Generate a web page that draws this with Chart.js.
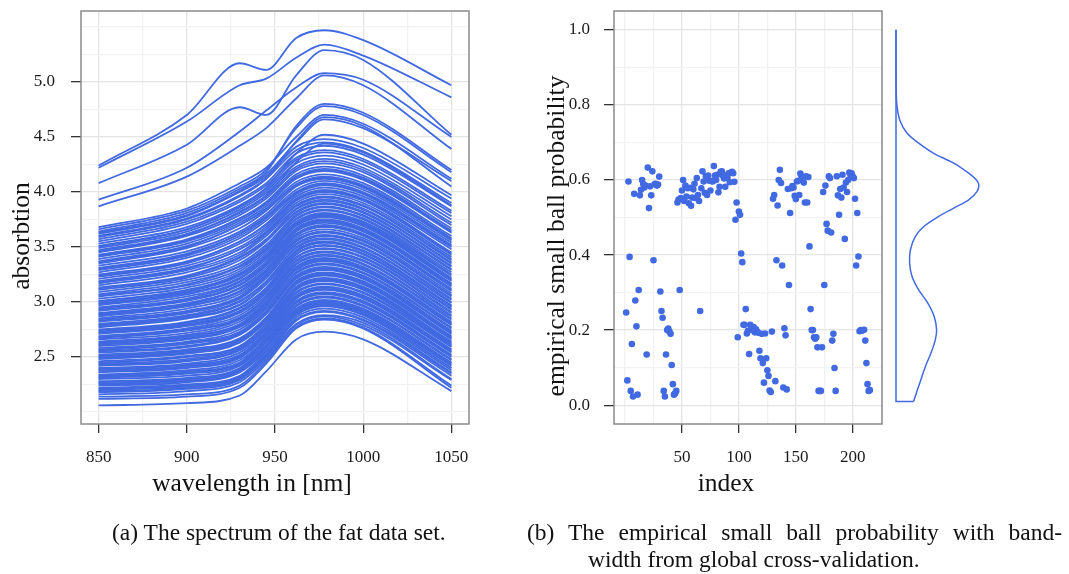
<!DOCTYPE html>
<html>
<head>
<meta charset="utf-8">
<script src="https://cdn.jsdelivr.net/npm/chart.js@4.4.1/dist/chart.umd.min.js"></script>
<style>
  html, body { margin: 0; padding: 0; background: #fff; }
  body { width: 1069px; height: 574px; position: relative; overflow: hidden; font-family: "Liberation Serif", serif; color: #111; }
  canvas { position: absolute; top: 0; }
  #spectra { left: 0; }
  #ballProb { left: 520px; }
  #ballDensity { left: 880px; }
  .cap { position: absolute; font-size: 23.5px; line-height: 1; white-space: nowrap; }
  #capA { left: 112px; top: 521px; }
  #capB1 { left: 527px; top: 521px; width: 535px; text-align: justify; text-align-last: justify; white-space: normal; }
  #capB2 { left: 588px; top: 548px; }
</style>
</head>
<body>
<canvas id="spectra" width="480" height="520"></canvas>
<canvas id="ballProb" width="380" height="520"></canvas>
<canvas id="ballDensity" width="140" height="520"></canvas>
<div class="cap" id="capA">(a) The spectrum of the fat data set.</div>
<div class="cap" id="capB1">(b) The empirical small ball probability with band-</div>
<div class="cap" id="capB2">width from global cross-validation.</div>
<script>
// --- data (a): absorbance of each sample at the wavelengths below ---
const wavelengths = [850, 900, 930, 945, 962, 978, 1000, 1050];
const spectra = [
  [2.06,2.08,2.15,2.37,2.66,2.73,2.66,2.19],
  [2.12,2.14,2.22,2.44,2.76,2.84,2.76,2.22],
  [2.14,2.16,2.24,2.46,2.77,2.85,2.77,2.24],
  [2.16,2.19,2.27,2.48,2.79,2.87,2.79,2.29],
  [2.18,2.21,2.29,2.50,2.80,2.88,2.81,2.30],
  [2.19,2.22,2.30,2.51,2.83,2.91,2.83,2.33],
  [2.20,2.23,2.31,2.53,2.86,2.94,2.86,2.36],
  [2.21,2.24,2.32,2.52,2.84,2.92,2.84,2.35],
  [2.22,2.25,2.33,2.55,2.89,2.97,2.89,2.40],
  [2.24,2.27,2.36,2.56,2.88,2.96,2.88,2.38],
  [2.25,2.28,2.37,2.58,2.91,2.99,2.91,2.42],
  [2.26,2.29,2.38,2.59,2.90,2.98,2.90,2.40],
  [2.27,2.30,2.39,2.60,2.93,3.01,2.93,2.44],
  [2.28,2.31,2.40,2.61,2.92,3.00,2.92,2.43],
  [2.30,2.33,2.42,2.63,2.94,3.02,2.94,2.45],
  [2.31,2.35,2.43,2.64,2.96,3.04,2.96,2.47],
  [2.32,2.36,2.44,2.66,2.99,3.07,2.99,2.50],
  [2.33,2.37,2.45,2.66,2.97,3.05,2.97,2.48],
  [2.34,2.38,2.47,2.67,3.00,3.08,3.00,2.51],
  [2.36,2.40,2.49,2.69,3.01,3.09,3.01,2.52],
  [2.37,2.41,2.50,2.70,3.03,3.11,3.03,2.54],
  [2.38,2.42,2.51,2.72,3.05,3.13,3.05,2.56],
  [2.39,2.43,2.52,2.72,3.04,3.12,3.04,2.55],
  [2.40,2.44,2.54,2.73,3.06,3.14,3.06,2.57],
  [2.42,2.46,2.56,2.75,3.08,3.16,3.08,2.59],
  [2.43,2.47,2.57,2.77,3.11,3.19,3.11,2.61],
  [2.44,2.48,2.58,2.77,3.09,3.17,3.09,2.60],
  [2.45,2.50,2.59,2.79,3.12,3.20,3.12,2.62],
  [2.46,2.51,2.60,2.80,3.14,3.22,3.14,2.64],
  [2.48,2.53,2.63,2.82,3.13,3.21,3.13,2.63],
  [2.49,2.54,2.64,2.83,3.16,3.24,3.16,2.66],
  [2.50,2.55,2.65,2.85,3.18,3.26,3.18,2.68],
  [2.51,2.56,2.66,2.85,3.17,3.25,3.17,2.67],
  [2.52,2.57,2.67,2.86,3.19,3.27,3.19,2.69],
  [2.54,2.59,2.70,2.89,3.21,3.29,3.21,2.71],
  [2.55,2.60,2.71,2.90,3.23,3.31,3.23,2.73],
  [2.56,2.62,2.72,2.91,3.22,3.30,3.22,2.72],
  [2.57,2.63,2.73,2.92,3.24,3.32,3.24,2.74],
  [2.58,2.64,2.75,2.94,3.27,3.35,3.27,2.77],
  [2.60,2.66,2.77,2.95,3.26,3.34,3.26,2.76],
  [2.61,2.67,2.78,2.97,3.29,3.37,3.29,2.79],
  [2.62,2.68,2.79,2.98,3.31,3.39,3.31,2.81],
  [2.63,2.69,2.80,2.99,3.30,3.38,3.30,2.80],
  [2.64,2.70,2.82,3.00,3.32,3.40,3.32,2.82],
  [2.66,2.72,2.84,3.02,3.34,3.42,3.34,2.84],
  [2.67,2.74,2.85,3.04,3.37,3.45,3.37,2.87],
  [2.68,2.75,2.86,3.04,3.35,3.43,3.35,2.85],
  [2.69,2.76,2.88,3.06,3.38,3.46,3.38,2.88],
  [2.71,2.78,2.90,3.08,3.40,3.48,3.40,2.90],
  [2.72,2.79,2.91,3.10,3.43,3.51,3.43,2.93],
  [2.73,2.80,2.92,3.10,3.41,3.49,3.41,2.91],
  [2.74,2.81,2.94,3.12,3.44,3.52,3.44,2.94],
  [2.75,2.82,2.95,3.13,3.46,3.54,3.46,2.96],
  [2.77,2.85,2.97,3.16,3.47,3.55,3.47,2.97],
  [2.78,2.86,2.98,3.16,3.46,3.54,3.46,2.96],
  [2.79,2.87,3.00,3.18,3.50,3.58,3.50,3.00],
  [2.80,2.88,3.01,3.19,3.49,3.57,3.49,2.99],
  [2.82,2.90,3.03,3.22,3.53,3.61,3.53,3.03],
  [2.83,2.91,3.04,3.22,3.52,3.60,3.52,3.02],
  [2.84,2.92,3.05,3.24,3.55,3.63,3.55,3.05],
  [2.85,2.94,3.07,3.25,3.56,3.64,3.56,3.06],
  [2.87,2.96,3.09,3.27,3.58,3.66,3.58,3.08],
  [2.88,2.97,3.10,3.28,3.56,3.64,3.56,3.06],
  [2.89,2.98,3.12,3.29,3.60,3.68,3.60,3.10],
  [2.90,2.99,3.13,3.31,3.61,3.69,3.61,3.11],
  [2.92,3.01,3.15,3.33,3.64,3.72,3.64,3.14],
  [2.93,3.02,3.16,3.34,3.62,3.70,3.62,3.12],
  [2.94,3.03,3.18,3.35,3.65,3.73,3.65,3.15],
  [2.95,3.05,3.19,3.37,3.67,3.75,3.67,3.17],
  [2.97,3.07,3.21,3.39,3.66,3.74,3.66,3.16],
  [2.98,3.08,3.22,3.40,3.69,3.77,3.69,3.19],
  [2.99,3.09,3.24,3.41,3.70,3.78,3.70,3.20],
  [3.00,3.10,3.25,3.42,3.72,3.80,3.72,3.22],
  [3.01,3.11,3.26,3.44,3.71,3.79,3.71,3.21],
  [3.03,3.13,3.28,3.46,3.73,3.81,3.73,3.24],
  [3.05,3.15,3.30,3.48,3.76,3.84,3.76,3.27],
  [3.06,3.16,3.32,3.48,3.75,3.83,3.75,3.25],
  [3.07,3.18,3.33,3.50,3.78,3.86,3.78,3.29],
  [3.09,3.20,3.35,3.52,3.79,3.87,3.79,3.30],
  [3.11,3.22,3.38,3.55,3.82,3.90,3.82,3.33],
  [3.12,3.23,3.40,3.56,3.81,3.89,3.81,3.32],
  [3.13,3.24,3.41,3.57,3.84,3.92,3.84,3.35],
  [3.15,3.27,3.43,3.60,3.85,3.93,3.85,3.36],
  [3.17,3.29,3.45,3.62,3.88,3.96,3.88,3.39],
  [3.18,3.30,3.48,3.63,3.87,3.95,3.87,3.38],
  [3.19,3.31,3.48,3.64,3.90,3.98,3.90,3.41],
  [3.21,3.33,3.50,3.66,3.92,4.00,3.92,3.43],
  [3.23,3.35,3.53,3.68,3.94,4.02,3.94,3.45],
  [3.24,3.36,3.55,3.70,3.93,4.01,3.93,3.44],
  [3.25,3.37,3.55,3.71,3.96,4.04,3.96,3.48],
  [3.27,3.40,3.58,3.74,3.98,4.06,3.98,3.50],
  [3.29,3.42,3.60,3.76,4.00,4.08,4.00,3.52],
  [3.30,3.43,3.62,3.77,3.99,4.07,3.99,3.51],
  [3.31,3.44,3.62,3.78,4.02,4.10,4.02,3.54],
  [3.33,3.46,3.64,3.80,4.05,4.12,4.04,3.56],
  [3.35,3.49,3.67,3.83,4.07,4.14,4.06,3.58],
  [3.36,3.50,3.70,3.84,4.06,4.13,4.05,3.57],
  [3.37,3.51,3.70,3.85,4.09,4.16,4.08,3.60],
  [3.39,3.53,3.72,3.87,4.12,4.19,4.11,3.63],
  [3.41,3.55,3.74,3.89,4.14,4.21,4.13,3.65],
  [3.42,3.56,3.76,3.90,4.13,4.20,4.12,3.64],
  [3.43,3.57,3.76,3.91,4.16,4.23,4.15,3.67],
  [3.45,3.60,3.79,3.94,4.19,4.26,4.18,3.70],
  [3.46,3.61,3.82,3.97,4.27,4.44,4.36,3.88],
  [3.47,3.62,3.81,3.96,4.21,4.28,4.20,3.72],
  [3.49,3.64,3.84,3.99,4.23,4.30,4.22,3.75],
  [3.50,3.66,3.87,4.04,4.35,4.52,4.44,3.97],
  [3.51,3.66,3.86,4.01,4.26,4.33,4.25,3.78],
  [3.53,3.68,3.88,4.03,4.29,4.36,4.28,3.81],
  [3.55,3.71,3.91,4.06,4.31,4.38,4.30,3.83],
  [3.57,3.73,3.93,4.08,4.35,4.42,4.34,3.87],
  [3.59,3.75,3.96,4.12,4.46,4.68,4.60,4.05],
  [3.60,3.76,3.97,4.12,4.38,4.45,4.37,3.90],
  [3.62,3.78,4.00,4.14,4.41,4.48,4.40,3.94],
  [3.63,3.79,4.01,4.16,4.45,4.66,4.58,4.10],
  [3.64,3.81,4.03,4.18,4.60,4.80,4.72,4.20],
  [3.66,3.83,4.05,4.20,4.58,4.78,4.70,4.18],
  [3.68,3.85,4.08,4.22,4.50,4.70,4.62,4.12],
  [3.87,4.14,4.42,4.58,4.85,5.06,4.97,4.39],
  [3.93,4.22,4.55,4.74,4.95,5.08,5.02,4.50],
  [4.08,4.43,4.77,4.70,5.06,5.29,5.20,4.52],
  [4.22,4.64,4.97,5.03,5.22,5.34,5.24,4.86],
  [4.24,4.70,5.17,5.11,5.40,5.47,5.38,4.97]
];
const nmTickLabels = [850, 900, 950, 1000, 1050];
const absTickLabels = [2.5, 3.0, 3.5, 4.0, 4.5, 5.0];

// --- data (b): small ball probability per sample (index = position + 1) ---
const ballProb = [
  0.247,0.066,0.596,0.395,0.038,0.163,0.023,0.563,0.279,0.210,
  0.028,0.307,0.559,0.574,0.600,0.589,0.580,0.585,0.135,0.633,
  0.525,0.583,0.559,0.623,0.386,0.589,0.590,0.585,0.588,0.609,
  0.303,0.251,0.233,0.038,0.023,0.135,0.200,0.204,0.196,0.190,
  0.107,0.056,0.028,0.032,0.038,
  0.540,0.548,0.307,0.552,0.572,0.600,0.544,0.585,0.556,0.578,
  0.538,0.579,0.531,0.553,0.575,0.590,0.552,0.605,0.560,0.544,
  0.251,0.578,0.623,0.596,0.566,0.610,0.560,0.612,0.598,0.572,
  0.597,0.596,0.637,0.612,0.600,0.614,0.567,0.582,0.622,0.623,
  0.611,0.604,0.582,0.612,0.606,0.618,0.594,0.620,0.622,0.618,
  0.595,0.494,0.540,0.181,0.516,0.507,0.404,0.381,
  0.214,0.214,0.256,0.191,0.198,0.136,0.214,0.205,0.200,0.208,
  0.194,0.202,0.196,0.193,0.145,0.125,0.190,0.112,0.060,0.191,
  0.125,0.093,0.078,0.039,0.035,0.196,0.550,0.560,0.064,0.386,
  0.532,0.600,0.627,0.592,0.372,0.047,0.205,0.186,0.042,0.576,
  0.320,0.512,0.578,0.584,0.580,0.558,0.549,0.596,0.598,0.560,
  0.617,0.610,0.606,0.593,0.540,0.610,0.540,0.608,0.423,0.256,
  0.200,0.200,0.181,0.177,0.181,0.154,0.038,0.038,0.038,0.154,
  0.568,0.320,0.585,0.483,0.465,0.610,0.605,0.460,0.172,0.190,
  0.099,0.038,0.610,0.559,0.507,0.576,0.553,0.614,0.580,0.443,
  0.593,0.568,0.600,0.620,0.614,0.618,0.610,0.605,0.550,0.372,
  0.512,0.396,0.197,0.200,0.198,0.200,0.201,0.172,0.112,0.056,
  0.038,0.040
];
const indexTickLabels = [50, 100, 150, 200];
const probTickLabels = [0.0, 0.2, 0.4, 0.6, 0.8, 1.0];

// density of the probabilities, drawn sideways next to panel (b)
const densityGrid = [0.01,0.032,0.059,0.103,0.139,0.174,0.20,0.236,0.272,0.307,0.343,0.378,0.414,0.449,0.476,0.503,0.525,0.547,0.569,0.587,0.60,0.618,0.645,0.671,0.698,0.725,0.76,0.796,0.83,0.90,1.00];
const densityVals = [0.66,0.76,0.89,1.10,1.31,1.47,1.52,1.43,1.19,0.85,0.60,0.51,0.54,0.72,1.04,1.60,2.16,2.72,3.03,3.10,3.01,2.72,2.16,1.41,0.85,0.41,0.14,0.04,0.01,0.00,0.00];

const BLUE = '#4169e1';
const GRID_MAJOR = '#e4e4e4';
const GRID_MINOR = '#f2f2f2';
const TICK_COL = '#333';
const FONT = '"Liberation Serif", serif';
const onList = (list, v) => list.some(t => Math.abs(t - v) < 1e-6);

const panelBox = {
  id: 'panelBox',
  afterDraw(chart) {
    const { ctx, chartArea: a } = chart;
    ctx.save();
    ctx.strokeStyle = '#8a8a8a';
    ctx.lineWidth = 1.5;
    ctx.strokeRect(a.left, a.top, a.right - a.left, a.bottom - a.top);
    ctx.restore();
  }
};

function axisTitles(items) {
  return {
    id: 'axisTitles',
    afterDraw(chart) {
      const ctx = chart.ctx;
      items.forEach(t => {
        ctx.save();
        ctx.font = '25.5px ' + FONT;
        ctx.fillStyle = '#111';
        ctx.textAlign = 'center';
        ctx.textBaseline = 'middle';
        ctx.translate(t.x, t.y);
        if (t.rotate) ctx.rotate(-Math.PI / 2);
        ctx.fillText(t.text, 0, 0);
        ctx.restore();
      });
    }
  };
}

// linear axis with ticks every `step`, labels + tick marks only at `labels`
function axis(labels, min, max, step, fmt, size, isX, pad) {
  return {
    type: 'linear', min: min, max: max,
    afterFit: s => {
      if (isX) { s.height = size; s.paddingLeft = 0; s.paddingRight = 0; }
      else { s.width = size; s.paddingTop = 0; s.paddingBottom = 0; }
    },
    border: { display: false },
    grid: {
      color: c => (c.tick && onList(labels, c.tick.value)) ? GRID_MAJOR : GRID_MINOR,
      tickColor: c => (c.tick && onList(labels, c.tick.value)) ? TICK_COL : 'rgba(0,0,0,0)',
      lineWidth: 1.3,
      tickLength: isX ? 9 : 10
    },
    ticks: {
      stepSize: step, includeBounds: false, autoSkip: false, maxRotation: 0,
      padding: pad, color: '#1a1a1a', font: { family: FONT, size: 17 },
      callback: v => onList(labels, v) ? fmt(v) : ''
    }
  };
}

// (a) spectra
new Chart(document.getElementById('spectra'), {
  type: 'line',
  data: {
    datasets: spectra.map(row => ({
      data: row.map((v, k) => ({ x: wavelengths[k], y: v })),
      borderColor: BLUE, borderWidth: 1.8, pointRadius: 0,
      cubicInterpolationMode: 'monotone', fill: false
    }))
  },
  options: {
    animation: false, responsive: false,
    layout: { padding: { left: 0, right: 11, top: 11, bottom: 0 } },
    plugins: { legend: { display: false }, tooltip: { enabled: false } },
    scales: {
      x: axis(nmTickLabels, 840, 1060, 25, v => String(v), 96, true, 14),
      y: axis(absTickLabels, 1.891, 5.645, 0.25, v => v.toFixed(1), 81, false, 16)
    }
  },
  plugins: [panelBox, axisTitles([
    { text: 'wavelength in [nm]', x: 252, y: 484 },
    { text: 'absorbtion', x: 22, y: 236, rotate: true }
  ])]
});

// (b) small ball probability by index
new Chart(document.getElementById('ballProb'), {
  type: 'scatter',
  data: {
    datasets: [{
      data: ballProb.map((v, k) => ({ x: k + 1, y: v })),
      backgroundColor: BLUE, borderWidth: 0, pointRadius: 3.3
    }]
  },
  options: {
    animation: false, responsive: false,
    layout: { padding: { left: 0, right: 18, top: 11, bottom: 0 } },
    plugins: { legend: { display: false }, tooltip: { enabled: false } },
    scales: {
      x: axis(indexTickLabels, -9.7, 225.7, 25, v => String(v), 96, true, 14),
      y: axis(probTickLabels, -0.0502, 1.0502, 0.1, v => v.toFixed(1), 94, false, 14)
    }
  },
  plugins: [panelBox, axisTitles([
    { text: 'index', x: 206, y: 484 },
    { text: 'empirical small ball probability', x: 37, y: 236, rotate: true }
  ])]
});

// (b) density of the probabilities, rotated
new Chart(document.getElementById('ballDensity'), {
  type: 'scatter',
  data: {
    datasets: [
      {
        data: densityVals.map((d, k) => ({ x: d, y: densityGrid[k] })),
        showLine: true, tension: 0.35, borderColor: BLUE, borderWidth: 1.5,
        pointRadius: 0, clip: false
      },
      {
        data: [
          { x: 0, y: densityGrid[densityGrid.length - 1] },
          { x: 0, y: densityGrid[0] },
          { x: densityVals[0], y: densityGrid[0] }
        ],
        showLine: true, tension: 0, borderColor: BLUE, borderWidth: 1.5,
        pointRadius: 0, clip: false
      }
    ]
  },
  options: {
    animation: false, responsive: false,
    layout: { padding: { left: 16, right: 0, top: 11, bottom: 96 } },
    plugins: { legend: { display: false }, tooltip: { enabled: false } },
    scales: {
      x: { type: 'linear', display: false, min: 0, max: 4.64 },
      y: { type: 'linear', display: false, min: -0.0502, max: 1.0502 }
    }
  }
});
</script>
</body>
</html>
